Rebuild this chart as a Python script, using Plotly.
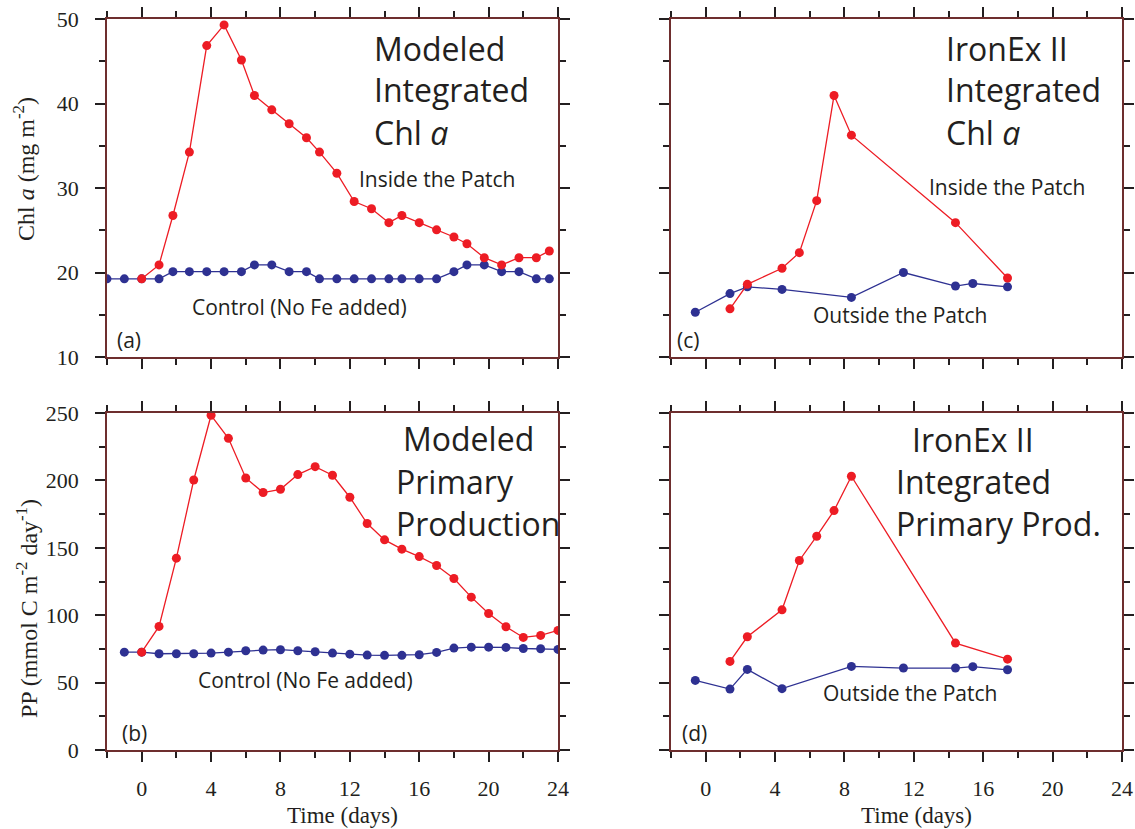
import plotly.graph_objects as go

# ---------------- data ----------------
# (a) Modeled integrated Chl a
a_control_days = [-2, -1, 0, 1, 1.8, 2.75, 3.75, 4.75, 5.75, 6.5, 7.5, 8.5, 9.5, 10.25, 11.25, 12.25,
                  13.25, 14.25, 15, 16, 17, 18, 18.75, 19.75, 20.75, 21.75, 22.75, 23.5]
a_control = [19.25, 19.25, 19.25, 19.25, 20.1, 20.1, 20.1, 20.1, 20.1, 20.9, 20.9, 20.1, 20.1, 19.25,
             19.25, 19.25, 19.25, 19.25, 19.25, 19.25, 19.25, 20.1, 20.9, 20.9, 20.1, 20.1, 19.25, 19.25]
a_patch_days = [0, 1, 1.8, 2.75, 3.75, 4.75, 5.75, 6.5, 7.5, 8.5, 9.5, 10.25, 11.25, 12.25, 13.25,
                14.25, 15, 16, 17, 18, 18.75, 19.75, 20.75, 21.75, 22.75, 23.5]
a_patch = [19.25, 20.9, 26.75, 34.25, 46.85, 49.3, 45.15, 40.95, 39.25, 37.6, 35.95, 34.25, 31.75,
           28.4, 27.55, 25.9, 26.75, 25.9, 25.05, 24.2, 23.4, 21.75, 20.9, 21.75, 21.75, 22.55]

# (b) Modeled primary production
b_control_days = list(range(-1, 25))
b_control = [72.6, 72.6, 71.4, 71.4, 71.4, 71.9, 72.6, 73.6, 74.1, 74.4, 73.6, 72.9, 71.9, 71.1,
             70.4, 70.2, 70.2, 70.7, 72.4, 75.6, 76.3, 76.3, 76.1, 75.3, 75.1, 74.6]
b_patch_days = list(range(0, 25))
b_patch = [72.6, 91.7, 142.3, 200.3, 248.3, 231.2, 201.8, 191.0, 193.4, 204.3, 210.2, 203.8, 187.5,
           168.0, 155.9, 149.0, 143.5, 136.9, 127.2, 113.4, 101.3, 91.4, 83.5, 85.0, 88.7]

# (c) IronEx II integrated Chl a
c_out_days = [-0.6, 1.4, 2.4, 4.4, 8.4, 11.4, 14.4, 15.4, 17.4]
c_out = [15.3, 17.5, 18.3, 18.0, 17.05, 20.0, 18.4, 18.7, 18.3]
c_in_days = [1.4, 2.4, 4.4, 5.4, 6.4, 7.4, 8.4, 14.4, 17.4]
c_in = [15.7, 18.6, 20.5, 22.35, 28.5, 40.95, 36.25, 25.9, 19.35]

# (d) IronEx II integrated primary production
d_out_days = [-0.6, 1.4, 2.4, 4.4, 8.4, 11.4, 14.4, 15.4, 17.4]
d_out = [51.6, 45.2, 59.8, 45.5, 62.0, 60.8, 60.8, 61.8, 59.5]
d_in_days = [1.4, 2.4, 4.4, 5.4, 6.4, 7.4, 8.4, 14.4, 17.4]
d_in = [65.7, 84.0, 104.0, 140.6, 158.6, 177.6, 203.1, 79.3, 67.4]

x_ticks = [0, 4, 8, 12, 16, 20, 24]

# ---------------- style ----------------
W, H = 1135, 829
RED = "#ed1c24"
BLUE = "#2e3192"
LINE_COL = "#6e2e2e"
TICK_COL = "#231f20"
SERIF = "Liberation Serif, Times New Roman, serif"
SANS = "Open Sans, Noto Sans, sans-serif"

def px(x):
    return x / W

def py(y):
    return 1 - y / H

fig = go.Figure()

def add_series(xs, ys, color, xa, ya):
    fig.add_trace(go.Scatter(
        x=xs, y=ys, mode="lines+markers", xaxis=xa, yaxis=ya,
        line=dict(color=color, width=1.3),
        marker=dict(color=color, size=9),
        showlegend=False, hoverinfo="x+y"))

add_series(a_control_days, a_control, BLUE, "x", "y")
add_series(a_patch_days, a_patch, RED, "x", "y")
add_series(b_control_days, b_control, BLUE, "x2", "y2")
add_series(b_patch_days, b_patch, RED, "x2", "y2")
add_series(c_out_days, c_out, BLUE, "x3", "y3")
add_series(c_in_days, c_in, RED, "x3", "y3")
add_series(d_out_days, d_out, BLUE, "x4", "y4")
add_series(d_in_days, d_in, RED, "x4", "y4")

left_dom = [px(107), px(558)]
right_dom = [px(671), px(1122)]
top_dom = [py(357), py(19)]
bot_dom = [py(750), py(413)]

def xaxis(domain, anchor, labels):
    return dict(domain=domain, anchor=anchor, range=[-2, 24], tickvals=x_ticks,
                ticktext=[str(v) for v in x_ticks],
                showticklabels=labels, ticks="outside", ticklen=10, tickwidth=2,
                tickcolor=TICK_COL, showline=True, linecolor=LINE_COL, linewidth=1.6,
                mirror="allticks", showgrid=False, zeroline=False, automargin=False,
                ticklabelstandoff=8, ticklabeloverflow="allow",
                minor=dict(dtick=2, tick0=0, ticks="outside", ticklen=6, tickwidth=2,
                           tickcolor=TICK_COL, showgrid=False),
                tickfont=dict(family=SERIF, size=22, color=TICK_COL))

def yaxis(domain, anchor, rng, dtick, minor, labels):
    return dict(domain=domain, anchor=anchor, range=rng, dtick=dtick, tick0=0,
                showticklabels=labels, ticks="outside", ticklen=10, tickwidth=2,
                tickcolor=TICK_COL, showline=True, linecolor=LINE_COL, linewidth=1.6,
                mirror="allticks", showgrid=False, zeroline=False, automargin=False,
                ticklabelstandoff=12, ticklabeloverflow="allow",
                minor=dict(dtick=minor, tick0=0, ticks="outside", ticklen=6, tickwidth=2,
                           tickcolor=TICK_COL, showgrid=False),
                tickfont=dict(family=SERIF, size=22, color=TICK_COL))

fig.update_layout(
    width=W, height=H,
    margin=dict(l=0, r=0, t=0, b=0, pad=0, autoexpand=False),
    paper_bgcolor="white", plot_bgcolor="white",
    xaxis=xaxis(left_dom, "y", False),
    yaxis=yaxis(top_dom, "x", [10, 50], 10, 5, True),
    xaxis2=xaxis(left_dom, "y2", True),
    yaxis2=yaxis(bot_dom, "x2", [0, 250], 50, 25, True),
    xaxis3=xaxis(right_dom, "y3", False),
    yaxis3=yaxis(top_dom, "x3", [10, 50], 10, 5, False),
    xaxis4=xaxis(right_dom, "y4", True),
    yaxis4=yaxis(bot_dom, "x4", [0, 250], 50, 25, False),
)

def note(text, x, y, size, family=SANS, anchor="left", angle=0):
    fig.add_annotation(text=text, x=px(x), y=py(y), xref="paper", yref="paper",
                       xanchor=anchor, yanchor="middle", showarrow=False,
                       textangle=angle,
                       font=dict(family=family, size=size, color="#231f20"))

BIG = 32
SMALL = 21
# panel a
note("Modeled", 372, 48, BIG)
note("Integrated", 372, 90, BIG)
note("Chl <i>a</i>", 372, 132, BIG)
note("Inside the Patch", 357, 179, SMALL)
note("Control (No Fe added)", 190, 307, SMALL)
note("(a)", 115, 340, SMALL)
# panel b
note("Modeled", 401, 438, BIG)
note("Primary", 394, 481, BIG)
note("Production", 394, 523, BIG)
note("Control (No Fe added)", 196, 680, SMALL)
note("(b)", 120, 733, SMALL)
# panel c
note("IronEx II", 944, 48, BIG)
note("Integrated", 944, 90, BIG)
note("Chl <i>a</i>", 944, 132, BIG)
note("Inside the Patch", 927, 187, SMALL)
note("Outside the Patch", 811, 315, SMALL)
note("(c)", 675, 340, SMALL)
# panel d
note("IronEx II", 910, 439, BIG)
note("Integrated", 894, 481, BIG)
note("Primary Prod.", 894, 523, BIG)
note("Outside the Patch", 821, 693, SMALL)
note("(d)", 680, 733, SMALL)

# axis titles
note("Time (days)", 342, 815, 23, family=SERIF, anchor="center")
note("Time (days)", 916, 815, 23, family=SERIF, anchor="center")
note("Chl <i>a</i> (mg m<sup>-2</sup>)", 24, 169, 24, family=SERIF, anchor="center", angle=-90)
note("PP (mmol C m<sup>-2</sup> day<sup>-1</sup>)", 27, 609, 24, family=SERIF, anchor="center", angle=-90)

fig.write_html(
    "out.html",
    config={"displayModeBar": False},
    post_script="document.body.style.margin='0px';document.body.style.overflow='hidden';",
)
